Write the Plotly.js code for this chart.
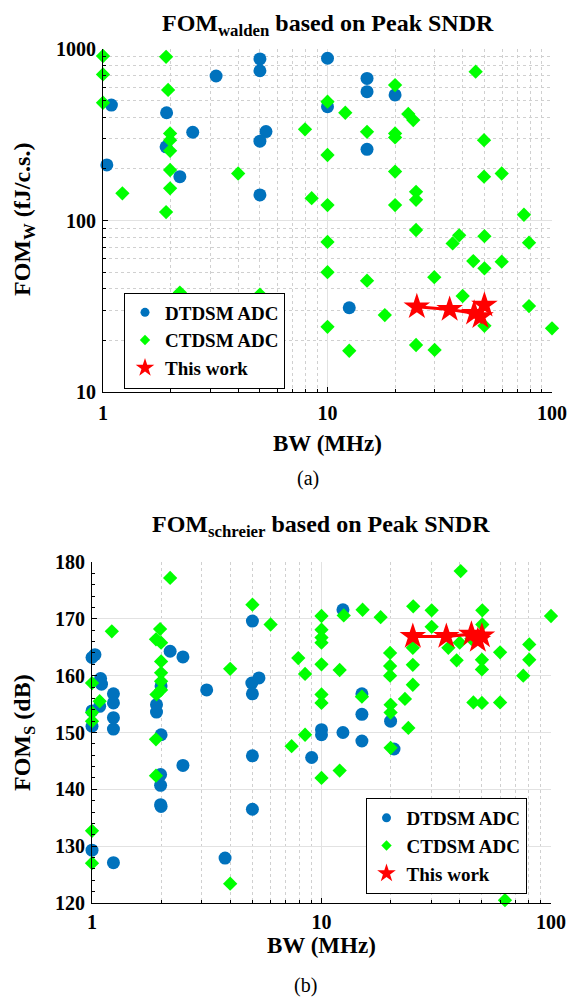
<!DOCTYPE html>
<html>
<head>
<meta charset="utf-8">
<script src="https://cdn.plot.ly/plotly-3.0.1.min.js"></script>
<style>html,body{margin:0;padding:0;background:#fff;}#chart{width:571px;height:999px;}</style>
</head>
<body>
<div id="chart"></div>
<script>
// ---- (a) FOM_walden vs BW ----
const dtBW_a  = [5.0, 5.0, 10, 3.19, 1.09, 10, 1.92, 2.51, 5.32, 1.91, 5.0, 1.04, 2.2, 5.0, 15, 15, 20, 15, 12.5];
const dtFOM_a = [875, 747, 883, 696, 471, 461, 425, 327, 330, 269, 290, 211, 180, 141, 674, 564, 540, 260, 31];
const ctBW_a  = [1.0, 1.91, 1.0, 1.95, 1.0, 10, 1.99, 7.94, 1.99, 1.99, 10, 1.99, 4.0, 1.99, 1.22, 8.5, 10, 1.91,
                 45.7, 20, 12, 22.9, 24.1, 15, 20, 20, 49.8, 20, 49.8, 59.7, 24.8, 24.8, 20, 75,
                 10, 10, 2.2, 5, 10, 24.8, 38.6, 36.1, 50, 79, 15, 44.6, 50, 59.7, 29.9,
                 40, 18, 79, 50, 100, 12.5, 24.8, 30];
const ctFOM_a = [910, 900, 711, 577, 486, 493, 322, 340, 294, 255, 241, 197, 188, 154, 144, 135, 123, 112,
                 738, 616, 425, 418, 385, 329, 322, 305, 294, 193, 180, 188, 147, 132, 123, 108,
                 75, 50, 38, 37, 24, 88, 82, 73.5, 81, 74.3, 44.6, 58, 52.6, 57.5, 46.7,
                 36.3, 28.1, 31.7, 24.3, 23.5, 17.4, 18.8, 17.6];
// ---- (b) FOM_schreier vs BW ----
const dtBW_b  = [5.0, 1.03, 1.0, 2.19, 2.49, 10, 10, 2.0, 1.91, 1.91, 2.0, 1.09, 1.1, 3.16, 4.97, 5.34, 5.0, 1.24, 1.24, 1.08,
                 1.0, 1.0, 1.24, 1.24, 9.06, 5.0, 2.49, 1.99, 1.99, 1.99, 2.0, 5.0, 1.0, 1.24, 3.8, 12.4, 15, 15, 15, 12.4,
                 20, 20.7, 20];
const dtFOM_b = [169.6, 163.7, 163.2, 164.3, 163.3, 150.5, 149.6, 158.2, 154.9, 153.6, 149.6, 159.5, 158.5, 157.5, 158.7, 159.6, 156.8, 156.8, 155.2, 154.6,
                 153.8, 151.1, 152.6, 150.6, 145.6, 145.9, 144.2, 142.6, 140.7, 137.3, 137.0, 136.5, 129.3, 127.1, 127.9, 171.6, 156.8, 153.2, 148.5, 150.0,
                 152.0, 147.1, 135.8];
const ctBW_b  = [2.19, 5.0, 6.0, 10, 10, 10, 10, 10, 10, 10, 1.22, 1.98, 1.9, 2.0, 2.0, 2.0, 2.0, 2.0, 1.91, 1.9,
                 4.0, 7.92, 8.48, 1.0, 1.08, 1.0, 1.0, 8.48, 7.41, 1.9, 10, 1.0, 1.0, 4.0, 12.0, 20, 63, 40.4, 12.5, 15.1,
                 18.1, 25.1, 30.2, 30.2, 50.2, 50.2, 100, 25, 25, 25, 19.9, 19.9, 19.9, 35.7, 38.8, 40, 50, 50, 60, 80.4,
                 80.4, 75.7, 12, 15, 23.1, 20, 20, 23.9, 45.9, 50, 60, 45];
const ctFOM_b = [177.2, 172.5, 169.0, 170.5, 168.1, 166.7, 165.8, 162.0, 156.7, 155.2, 167.8, 168.2, 166.4, 165.8, 162.5, 160.5, 159.0, 157.5, 156.7, 148.8,
                 161.2, 163.1, 160.3, 158.7, 155.5, 153.5, 152.0, 149.6, 147.6, 142.4, 142.0, 132.7, 127.0, 123.4, 143.3, 147.3, 120.5, 178.4, 170.6, 171.6,
                 170.3, 172.2, 171.5, 168.6, 171.5, 169.0, 170.5, 164.9, 161.9, 158.4, 164.0, 161.7, 160.0, 164.9, 162.7, 165.8, 162.8, 161.1, 164.1, 165.5,
                 162.8, 160.0, 161.0, 156.3, 155.9, 154.9, 153.5, 150.8, 155.3, 155.2, 155.3, 166.5];
// ---- This work ----
const swBW   = [25, 35, 45, 48, 50];
const swFOMW = [31.4, 30.3, 28.8, 27.5, 32.1];
const swFOMS = [166.9, 166.9, 167.3, 166.2, 167.0];

const legendNames = ['DTDSM ADC', 'CTDSM ADC', 'This work'];
const xTicks = [1, 10, 100];
const yTicksA = [10, 100, 1000];
const yTicksB = [120, 130, 140, 150, 160, 170, 180];

const BLUE = '#0072BD', GREEN = '#00FF00', RED = '#FF0000';
const FONT = 'Liberation Serif';

function minorLog(decades) {
  const v = [];
  decades.forEach(d => { for (let k = 2; k <= 9; k++) v.push(k * d); });
  return v;
}

const blueM = {symbol: 'circle', size: 13, color: BLUE};
const greenM = {symbol: 'diamond', size: 11, color: GREEN};
const redM = {symbol: 'star', size: 20, color: RED, line: {width: 0}};

const traces = [
  {x: dtBW_a, y: dtFOM_a, xaxis: 'x', yaxis: 'y', mode: 'markers', marker: blueM, showlegend: false, cliponaxis: false},
  {x: ctBW_a, y: ctFOM_a, xaxis: 'x', yaxis: 'y', mode: 'markers', marker: greenM, showlegend: false, cliponaxis: false},
  {x: swBW, y: swFOMW, xaxis: 'x', yaxis: 'y', mode: 'lines+markers', line: {color: RED, width: 3}, marker: redM, showlegend: false, cliponaxis: false},
  {x: dtBW_b, y: dtFOM_b, xaxis: 'x2', yaxis: 'y2', mode: 'markers', marker: blueM, showlegend: false, cliponaxis: false},
  {x: ctBW_b, y: ctFOM_b, xaxis: 'x2', yaxis: 'y2', mode: 'markers', marker: greenM, showlegend: false, cliponaxis: false},
  {x: swBW, y: swFOMS, xaxis: 'x2', yaxis: 'y2', mode: 'lines+markers', line: {color: RED, width: 3}, marker: redM, showlegend: false, cliponaxis: false}
];
// legend-only entries (small symbols as in the reference legend)
['legend', 'legend2'].forEach((lg, i) => {
  const xa = i ? 'x2' : 'x', ya = i ? 'y2' : 'y';
  traces.push({x: [null], y: [null], xaxis: xa, yaxis: ya, mode: 'markers', name: legendNames[0], legend: lg, marker: {symbol: 'circle', size: 9, color: BLUE}});
  traces.push({x: [null], y: [null], xaxis: xa, yaxis: ya, mode: 'markers', name: legendNames[1], legend: lg, marker: {symbol: 'diamond', size: 8, color: GREEN}});
  traces.push({x: [null], y: [null], xaxis: xa, yaxis: ya, mode: 'markers', name: legendNames[2], legend: lg, marker: {symbol: 'star', size: 14, color: RED}});
});

const W = 571, H = 999;
const px = v => v / W, py = v => 1 - v / H;

const tickFont = {family: FONT, size: 20, color: '#000', weight: 700};
const gridMajor = '#e2e2e2';
const gridMinor = '#d0d0d0';

function logAxis(domain, anchor, rangeArr, ticks, minorVals, minorGrid) {
  return {
    type: 'log', range: rangeArr, domain: domain, anchor: anchor,
    tickmode: 'array', tickvals: ticks, ticktext: ticks.map(String),
    tickfont: tickFont, ticks: 'inside', ticklen: 5, tickcolor: '#000',
    showline: true, linecolor: '#000', linewidth: 1, mirror: false,
    showgrid: true, gridcolor: gridMajor, gridwidth: 1, zeroline: false,
    minor: {tickmode: 'array', tickvals: minorVals, ticks: 'inside', ticklen: 3, tickcolor: '#000',
            showgrid: minorGrid, gridcolor: gridMinor, griddash: 'dot', gridwidth: 1},
    automargin: false, fixedrange: true
  };
}

const xMinor = minorLog([1, 10]);
const yMinorA = minorLog([10, 100]);

const legendFont = {family: FONT, size: 19, color: '#000', weight: 700};

const layout = {
  width: W, height: H, autosize: false,
  margin: {l: 0, r: 0, t: 0, b: 0},
  paper_bgcolor: '#fff', plot_bgcolor: '#fff',
  font: {family: FONT, color: '#000'},
  xaxis: Object.assign(logAxis([px(103), px(552)], 'y', [0, 2], xTicks, xMinor, true), {ticklabelstandoff: 3}),
  yaxis: Object.assign(logAxis([py(392), py(49)], 'x', [1, 3], yTicksA, yMinorA, true), {ticklabelstandoff: 2}),
  xaxis2: Object.assign(logAxis([px(92), px(551)], 'y2', [0, 2], xTicks, xMinor, true), {ticklabelstandoff: 1}),
  yaxis2: {
    range: [120, 180], domain: [py(903), py(562)], anchor: 'x2',
    tickmode: 'array', tickvals: yTicksB, ticktext: yTicksB.map(String),
    tickfont: tickFont, ticks: 'inside', ticklen: 5, tickcolor: '#000', ticklabelstandoff: 2,
    showline: true, linecolor: '#000', linewidth: 1,
    showgrid: true, gridcolor: gridMajor, zeroline: false,
    minor: {dtick: 2, ticks: 'inside', ticklen: 3, tickcolor: '#000', showgrid: false},
    automargin: false, fixedrange: true
  },
  legend: {
    x: px(204.5), y: py(340.5), xanchor: 'center', yanchor: 'middle',
    bgcolor: '#fff', bordercolor: '#000', borderwidth: 1, font: legendFont
  },
  legend2: {
    x: px(446), y: py(846), xanchor: 'center', yanchor: 'middle',
    bgcolor: '#fff', bordercolor: '#000', borderwidth: 1, font: legendFont
  },
  annotations: [
    {text: 'FOM<sub>walden</sub> based on Peak SNDR', xref: 'paper', yref: 'paper', x: px(328), y: py(25),
     xanchor: 'center', yanchor: 'middle', showarrow: false, font: {family: FONT, size: 24, color: '#000', weight: 700}},
    {text: 'FOM<sub>schreier</sub> based on Peak SNDR', xref: 'paper', yref: 'paper', x: px(321), y: py(526),
     xanchor: 'center', yanchor: 'middle', showarrow: false, font: {family: FONT, size: 24, color: '#000', weight: 700}},
    {text: 'FOM<sub>W</sub> (fJ/c.s.)', xref: 'paper', yref: 'paper', x: px(24), y: py(220), textangle: -90,
     xanchor: 'center', yanchor: 'middle', showarrow: false, font: {family: FONT, size: 24, color: '#000', weight: 700}},
    {text: 'FOM<sub>S</sub> (dB)', xref: 'paper', yref: 'paper', x: px(24), y: py(733), textangle: -90,
     xanchor: 'center', yanchor: 'middle', showarrow: false, font: {family: FONT, size: 24, color: '#000', weight: 700}},
    {text: 'BW (MHz)', xref: 'paper', yref: 'paper', x: px(327), y: py(443),
     xanchor: 'center', yanchor: 'middle', showarrow: false, font: {family: FONT, size: 23, color: '#000', weight: 700}},
    {text: 'BW (MHz)', xref: 'paper', yref: 'paper', x: px(321), y: py(945),
     xanchor: 'center', yanchor: 'middle', showarrow: false, font: {family: FONT, size: 23, color: '#000', weight: 700}},
    {text: '(a)', xref: 'paper', yref: 'paper', x: px(308), y: py(478),
     xanchor: 'center', yanchor: 'middle', showarrow: false, font: {family: FONT, size: 20, color: '#000'}},
    {text: '(b)', xref: 'paper', yref: 'paper', x: px(305), y: py(985),
     xanchor: 'center', yanchor: 'middle', showarrow: false, font: {family: FONT, size: 20, color: '#000'}}
  ]
};

Plotly.newPlot('chart', traces, layout, {staticPlot: true, displayModeBar: false});
</script>
</body>
</html>
